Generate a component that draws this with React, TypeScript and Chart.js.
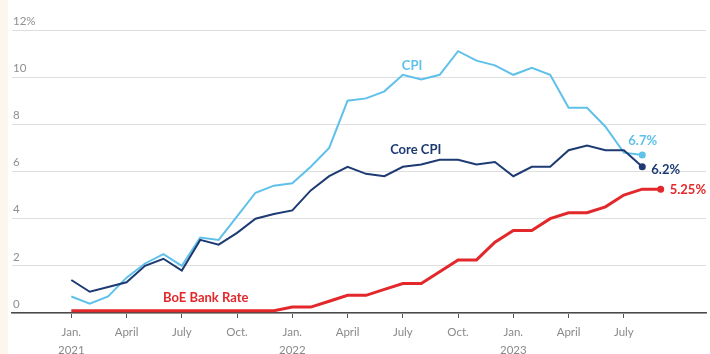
import React, { useEffect, useRef } from "react";
import { Chart, registerables } from "chart.js";

Chart.register(...registerables);

// Months from Jan. 2021 (index 0) to Sep. 2023 (index 32)
const months: string[] = [
  "2021-01", "2021-02", "2021-03", "2021-04", "2021-05", "2021-06",
  "2021-07", "2021-08", "2021-09", "2021-10", "2021-11", "2021-12",
  "2022-01", "2022-02", "2022-03", "2022-04", "2022-05", "2022-06",
  "2022-07", "2022-08", "2022-09", "2022-10", "2022-11", "2022-12",
  "2023-01", "2023-02", "2023-03", "2023-04", "2023-05", "2023-06",
  "2023-07", "2023-08", "2023-09",
];

const cpi: number[] = [
  0.7, 0.4, 0.7, 1.5, 2.1, 2.5, 2.0, 3.2, 3.1, 4.1, 5.1, 5.4,
  5.5, 6.2, 7.0, 9.0, 9.1, 9.4, 10.1, 9.9, 10.1, 11.1, 10.7, 10.5,
  10.1, 10.4, 10.1, 8.7, 8.7, 7.9, 6.8, 6.7,
];

const coreCpi: number[] = [
  1.4, 0.9, 1.1, 1.3, 2.0, 2.3, 1.8, 3.1, 2.9, 3.4, 4.0, 4.2,
  4.35, 5.2, 5.8, 6.2, 5.9, 5.8, 6.2, 6.3, 6.5, 6.5, 6.3, 6.4,
  5.8, 6.2, 6.2, 6.9, 7.1, 6.9, 6.9, 6.2,
];

const bankRate: number[] = [
  0.1, 0.1, 0.1, 0.1, 0.1, 0.1, 0.1, 0.1, 0.1, 0.1, 0.1, 0.1,
  0.25, 0.25, 0.5, 0.75, 0.75, 1.0, 1.25, 1.25, 1.75, 2.25, 2.25, 3.0,
  3.5, 3.5, 4.0, 4.25, 4.25, 4.5, 5.0, 5.25, 5.25,
];

const xTickMonths: number[] = [0, 3, 6, 9, 12, 15, 18, 21, 24, 27, 30];
const xTickLabels: (string | string[])[] = [
  ["Jan.", "2021"], "April", "July", "Oct.",
  ["Jan.", "2022"], "April", "July", "Oct.",
  ["Jan.", "2023"], "April", "July",
];

const yTicks: number[] = [0, 2, 4, 6, 8, 10, 12];

const LIGHT = "#5fc1ea";
const NAVY = "#1d3b72";
const RED = "#e2282a";
const FONT = "Lato, 'Noto Sans', sans-serif";

const seriesNames = { cpi: "CPI", core: "Core CPI", bank: "BoE Bank Rate" };

const toPoints = (vals: number[]) => vals.map((v, i) => ({ x: i, y: v }));

const labelPlugin = {
  id: "seriesLabels",
  afterDatasetsDraw(chart: any) {
    const { ctx, scales } = chart;
    const xs = scales.x;
    const ys = scales.y;
    ctx.save();
    ctx.font = `bold 13px ${FONT}`;
    ctx.textBaseline = "middle";
    const names = [
      { text: seriesNames.cpi, x: 18.5, y: 10.5, color: LIGHT },
      { text: seriesNames.core, x: 18.7, y: 6.9, color: NAVY },
      { text: seriesNames.bank, x: 7.3, y: 0.64, color: RED },
    ];
    ctx.textAlign = "center";
    names.forEach((n) => {
      ctx.fillStyle = n.color;
      ctx.fillText(n.text, xs.getPixelForValue(n.x), ys.getPixelForValue(n.y));
    });
    const ends = [
      { vals: cpi, color: LIGHT, dx: -14, dy: -14 },
      { vals: coreCpi, color: NAVY, dx: 9, dy: 3 },
      { vals: bankRate, color: RED, dx: 9, dy: 1 },
    ];
    ctx.textAlign = "left";
    ends.forEach((e) => {
      const i = e.vals.length - 1;
      const v = e.vals[i];
      ctx.fillStyle = e.color;
      ctx.fillText(`${v}%`, xs.getPixelForValue(i) + e.dx, ys.getPixelForValue(v) + e.dy);
    });
    ctx.restore();
  },
};

export default function App() {
  const ref = useRef<HTMLCanvasElement | null>(null);

  useEffect(() => {
    document.body.style.margin = "0";
    if (!ref.current) return;
    const lastR = (vals: number[]) => (c: any) => (c.dataIndex === vals.length - 1 ? 3.5 : 0);
    const chart = new Chart(ref.current, {
      type: "line",
      data: {
        labels: months,
        datasets: [
          {
            label: seriesNames.core,
            data: toPoints(coreCpi),
            borderColor: NAVY,
            backgroundColor: NAVY,
            borderWidth: 2,
            pointRadius: lastR(coreCpi),
            pointBorderWidth: 0,
            pointBackgroundColor: NAVY,
          },
          {
            label: seriesNames.cpi,
            data: toPoints(cpi),
            borderColor: LIGHT,
            backgroundColor: LIGHT,
            borderWidth: 2,
            pointRadius: lastR(cpi),
            pointBorderWidth: 0,
            pointBackgroundColor: LIGHT,
          },
          {
            label: seriesNames.bank,
            data: toPoints(bankRate),
            borderColor: RED,
            backgroundColor: RED,
            borderWidth: 3,
            pointRadius: lastR(bankRate),
            pointBorderWidth: 0,
            pointBackgroundColor: RED,
          },
        ],
      },
      options: {
        animation: false,
        responsive: false,
        layout: { padding: { top: 30, left: 0, right: 0, bottom: 0 } },
        plugins: { legend: { display: false }, tooltip: { enabled: false } },
        scales: {
          x: {
            type: "linear",
            min: -3.22,
            max: 34.46,
            afterBuildTicks: (axis: any) => {
              axis.ticks = xTickMonths.map((v) => ({ value: v }));
            },
            afterFit: (axis: any) => {
              axis.height = 41;
              axis.paddingLeft = 0;
              axis.paddingRight = 0;
            },
            grid: {
              drawOnChartArea: false,
              drawTicks: true,
              tickLength: 5,
              color: "#555",
              lineWidth: 1,
            },
            border: { display: true, color: "#4a4a4a", width: 1.5 },
            ticks: {
              autoSkip: false,
              maxRotation: 0,
              padding: 5,
              color: "#8a8a8a",
              font: { family: FONT, size: 11.5, lineHeight: 1.6 },
              callback: (v: any) => {
                const k = xTickMonths.indexOf(Number(v));
                return k >= 0 ? xTickLabels[k] : "";
              },
            },
          },
          y: {
            min: 0,
            max: 12,
            afterBuildTicks: (axis: any) => {
              axis.ticks = yTicks.map((v) => ({ value: v }));
            },
            afterFit: (axis: any) => {
              axis.width = 0;
              axis.paddingTop = 0;
              axis.paddingBottom = 0;
            },
            grid: { color: "#dedede", lineWidth: 1, drawTicks: false },
            border: { display: false },
            ticks: {
              mirror: true,
              padding: 1,
              labelOffset: -9,
              color: "#8f8f8f",
              font: { family: FONT, size: 11.5 },
              callback: (v: any) => (Number(v) === 12 ? "12%" : String(v)),
            },
          },
        },
      },
      plugins: [labelPlugin],
    });
    return () => chart.destroy();
  }, []);

  return (
    <div style={{ width: 710, height: 354, display: "flex", background: "#ffffff" }}>
      <div style={{ width: 8, height: 354, background: "#fcf6ee" }} />
      <canvas ref={ref} width={702} height={354} style={{ display: "block" }} />
    </div>
  );
}
